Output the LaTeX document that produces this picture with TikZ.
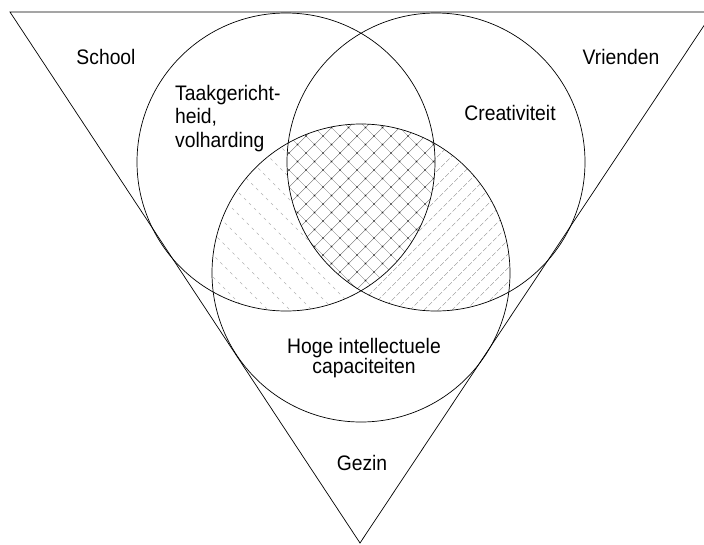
\documentclass[tikz,border=0pt]{standalone}
\usepackage{fontspec}
\setmainfont{Liberation Sans}[FakeStretch=0.92]
\usetikzlibrary{calc}

\begin{document}
\begin{tikzpicture}[x=1pt, y=-1pt,
  rim/.style={draw, line width=0.7pt},
  lbl/.style={font=\fontsize{21}{23.5}\selectfont, inner sep=0pt},
  hatchl/.style={draw=black!30, line width=0.4pt, dash pattern=on 3pt off 4pt},
  hatchr/.style={draw=black!45, line width=0.35pt, dash pattern=on 5pt off 2pt},
  cross/.style={draw=black!60, line width=0.35pt},
  knot/.style={fill=black!85}
]
  \useasboundingbox (0,0) rectangle (704,544);
  \clip (0,0) rectangle (704,544);
  \def\rad{149}

  \coordinate (tl)  at (10,12);
  \coordinate (tr)  at (713,12);
  \coordinate (bot) at (360,543);
  \coordinate (cl)  at (286,162);
  \coordinate (cr)  at (436,162);
  \coordinate (cb)  at (361,273);

  % school and talent only
  \begin{scope}
    \clip (cl) circle[radius=\rad];
    \clip (cb) circle[radius=\rad];
    \foreach \c in {-240,-218,...,400}
      \draw[hatchl] (\c,0) -- (\c+600,600);
  \end{scope}

  % friends and talent only
  \begin{scope}
    \clip (cr) circle[radius=\rad];
    \clip (cb) circle[radius=\rad];
    \foreach \c in {300,314,...,980}
      \draw[hatchr] (\c,0) -- (\c-600,600);
  \end{scope}

  % all three
  \begin{scope}
    \clip (cl) circle[radius=\rad];
    \clip (cr) circle[radius=\rad];
    \clip (cb) circle[radius=\rad];
    \fill[white] (200,100) rectangle (520,320);
    \foreach \a in {374,391,...,782}
      \draw[cross] (\a,0) -- (\a-600,600);
    \foreach \b in {-51,-34,...,357}
      \draw[cross] (\b,0) -- (\b+600,600);
    \foreach \a in {374,391,...,782}
      \foreach \b in {-51,-34,...,357}
        \fill[knot] ({(\a+\b)/2},{(\a-\b)/2}) circle[radius=0.9];
  \end{scope}

  \draw[rim] (tl) -- (tr) -- (bot) -- cycle;
  \draw[rim] (cl) circle[radius=\rad];
  \draw[rim] (cr) circle[radius=\rad];
  \draw[rim] (cb) circle[radius=\rad];

  \node[lbl, anchor=base] (school) at (106,64) {School};
  \node[lbl, anchor=base] (vrienden) at (621,64) {Vrienden};
  \node[lbl, anchor=base west, align=left] (taak) at (175,147)
       {Taakgericht-\\heid,\\volharding};
  \node[lbl, anchor=base] (crea) at (510,120) {Creativiteit};
  \node[lbl, anchor=base, align=center,
        font=\fontsize{21}{20}\selectfont] (hoge) at (364,373)
       {Hoge intellectuele\\capaciteiten};
  \node[lbl, anchor=base] (gezin) at (362,470) {Gezin};

\end{tikzpicture}
\end{document}
